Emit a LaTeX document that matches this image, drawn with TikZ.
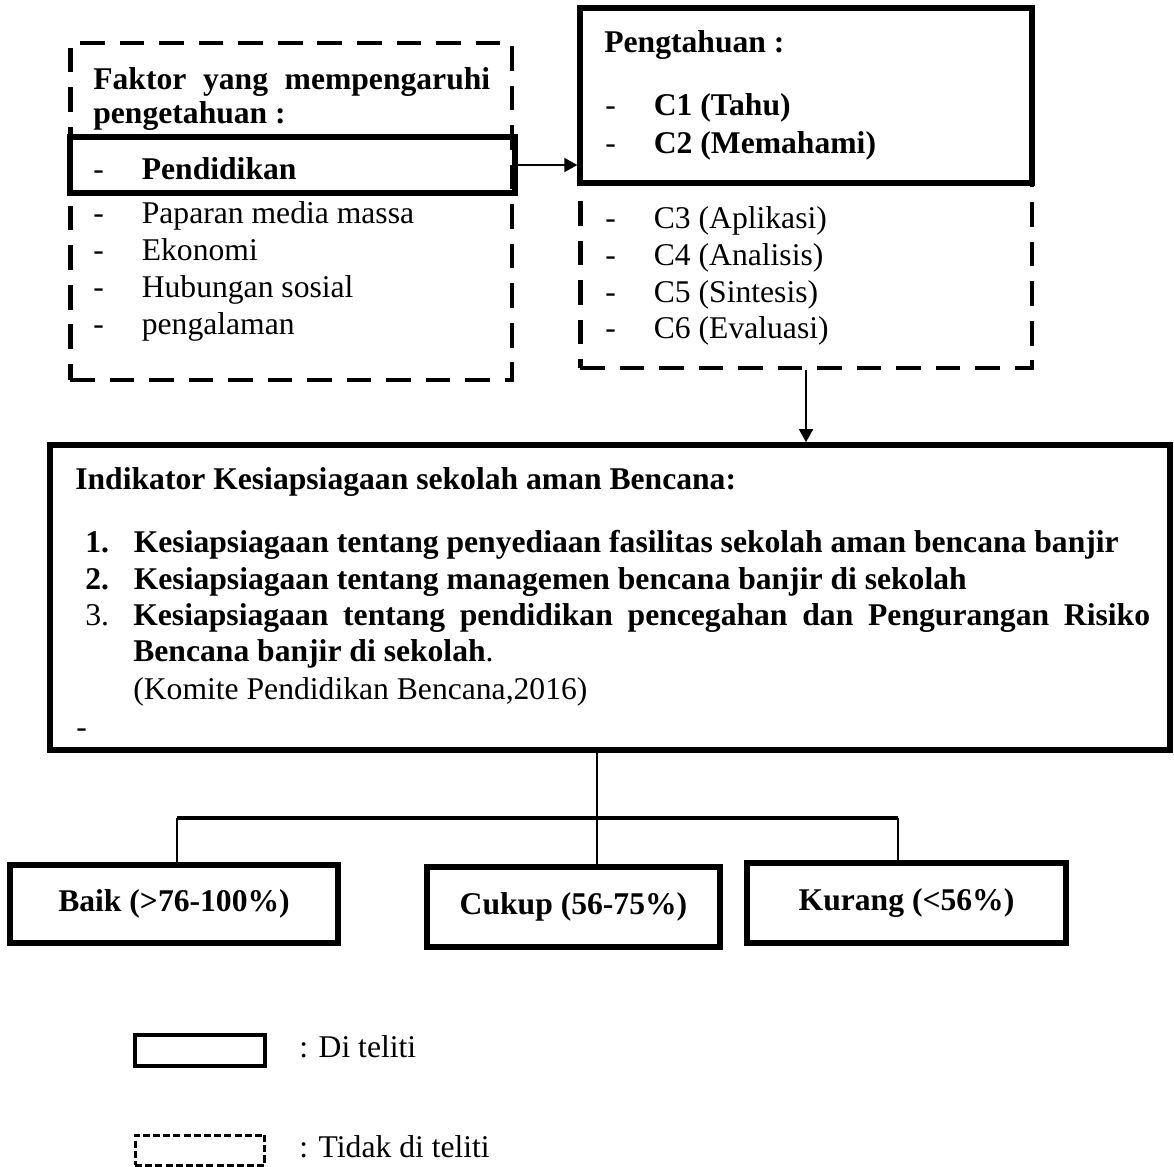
\documentclass[tikz,border=0pt]{standalone}
\usepackage{fontspec}
\setmainfont{Liberation Serif}
\usepackage{tikz}
\usetikzlibrary{arrows.meta}
\usetikzlibrary{positioning}
\newcommand{\lstitem}[2]{\makebox[0.97cm][l]{#1}#2}

\begin{document}
\begin{tikzpicture}[x=0.02cm, y=-0.02cm,
                fsize/.style={font=\fontsize{18}{21}\selectfont},
                solidbx/.style={draw, rectangle, line width=3.1pt, inner sep=0pt, fsize},
                dashbx/.style={draw, rectangle, line width=2.8pt, inner sep=0pt,
                    dash pattern=on 14pt off 8.5pt},
                txt/.style={anchor=base west, inner sep=0pt, fsize},
                btxt/.style={txt, font=\fontsize{18}{21}\selectfont\bfseries},
                conn/.style={line width=1.1pt},
                arr/.style={conn, -{Triangle[length=0.26cm, width=0.28cm]}}]
                \useasboundingbox (0,0) rectangle (1174,1167);
                % kotak atas
                \node[dashbx, minimum width=8.84cm, minimum height=6.74cm] (faktor) at (291,211.5) {};
                \node[solidbx, minimum width=8.90cm, minimum height=1.12cm] (pend) at (292.5,165) {};
                \node[dashbx, minimum width=9.04cm, minimum height=3.7cm] (cdash) at (806,275.5) {};
                \node[solidbx, minimum width=9.04cm, minimum height=3.5cm] (pengt) at (806,95.5) {};
                \node[btxt, text width=7.94cm, align=justify, font=\fontsize{18}{19.5}\selectfont\bfseries] (t001) at (93,89)
                    {Faktor yang mempengaruhi\linebreak pengetahuan :};
                \node[txt] (t002) at (93,179) {\lstitem{-}{\bfseries Pendidikan}};
                \node[txt] (t003) at (93,223) {\lstitem{-}{Paparan media massa}};
                \node[txt] (t004) at (93,260) {\lstitem{-}{Ekonomi}};
                \node[txt] (t005) at (93,297) {\lstitem{-}{Hubungan sosial}};
                \node[txt] (t006) at (93,334) {\lstitem{-}{pengalaman}};
                \node[btxt] (t007) at (604,52) {Pengtahuan :};
                \node[txt] (t008) at (605,115) {\lstitem{-}{\bfseries C1 (Tahu)}};
                \node[txt] (t009) at (605,153) {\lstitem{-}{\bfseries C2 (Memahami)}};
                \node[txt] (t010) at (605,228) {\lstitem{-}{C3 (Aplikasi)}};
                \node[txt] (t011) at (605,265) {\lstitem{-}{C4 (Analisis)}};
                \node[txt] (t012) at (605,302) {\lstitem{-}{C5 (Sintesis)}};
                \node[txt] (t013) at (605,338) {\lstitem{-}{C6 (Evaluasi)}};
                % indikator
                \node[solidbx, line width=3.3pt, minimum width=22.4cm, minimum height=6.1cm] (indik) at (610,597.5) {};
                \node[btxt] (t014) at (75,489) {Indikator Kesiapsiagaan sekolah aman Bencana:};
                \node[txt] (t015) at (85,552) {\lstitem{\bfseries 1.}{\bfseries Kesiapsiagaan tentang penyediaan fasilitas sekolah aman bencana banjir}};
                \node[txt] (t016) at (85,589) {\lstitem{\bfseries 2.}{\bfseries Kesiapsiagaan tentang managemen bencana banjir di sekolah}};
                \node[txt] (t017) at (85,625) {3.};
                \node[txt, text width=20.34cm, align=justify] (t018) at (133,625)
                    {{\bfseries Kesiapsiagaan tentang pendidikan pencegahan dan Pengurangan Risiko\linebreak Bencana banjir di sekolah}.};
                \node[txt] (t019) at (133,699) {(Komite Pendidikan Bencana,2016)};
                \node[txt] (t020) at (76,737) {-};
                % kategori
                \node[solidbx, minimum width=6.56cm, minimum height=1.56cm, font=\fontsize{18}{21}\selectfont\bfseries] (baik) at (174,904) {Baik (>76-100\%)};
                \node[solidbx, minimum width=5.86cm, minimum height=1.6cm, font=\fontsize{18}{21}\selectfont\bfseries] (cukup) at (573.5,907) {Cukup (56-75\%)};
                \node[solidbx, minimum width=6.38cm, minimum height=1.6cm, font=\fontsize{18}{21}\selectfont\bfseries] (kurang) at (906.5,903) {Kurang (<56\%)};
                \coordinate (split) at (597,818);
                \coordinate (barL) at (177,818);
                \coordinate (barR) at (898,818);
                % panah
                \draw[arr] (pend.east) -- (pend.east -| pengt.west);
                \draw[arr] (cdash.south) -- (cdash.south |- indik.north);
                \draw[conn] (split |- indik.south) -- (split);
                \draw[line width=2.4pt] (barL) -- (barR);
                \draw[conn] (barL) -- (barL |- baik.north);
                \draw[conn] (split) -- (split |- cukup.north);
                \draw[conn] (barR) -- (barR |- kurang.north);
                % keterangan
                \node[draw, rectangle, line width=1.9pt, minimum width=2.6cm, minimum height=0.62cm] (legA) at (200,1050.5) {};
                \node[draw, rectangle, line width=1.7pt, dash pattern=on 4pt off 1.8pt, minimum width=2.6cm, minimum height=0.6cm] (legB) at (200,1150) {};
                \node[txt] (t021) at (299,1057) {: Di teliti};
                \node[txt] (t022) at (299,1157) {: Tidak di teliti};
            \end{tikzpicture}
\end{document}
